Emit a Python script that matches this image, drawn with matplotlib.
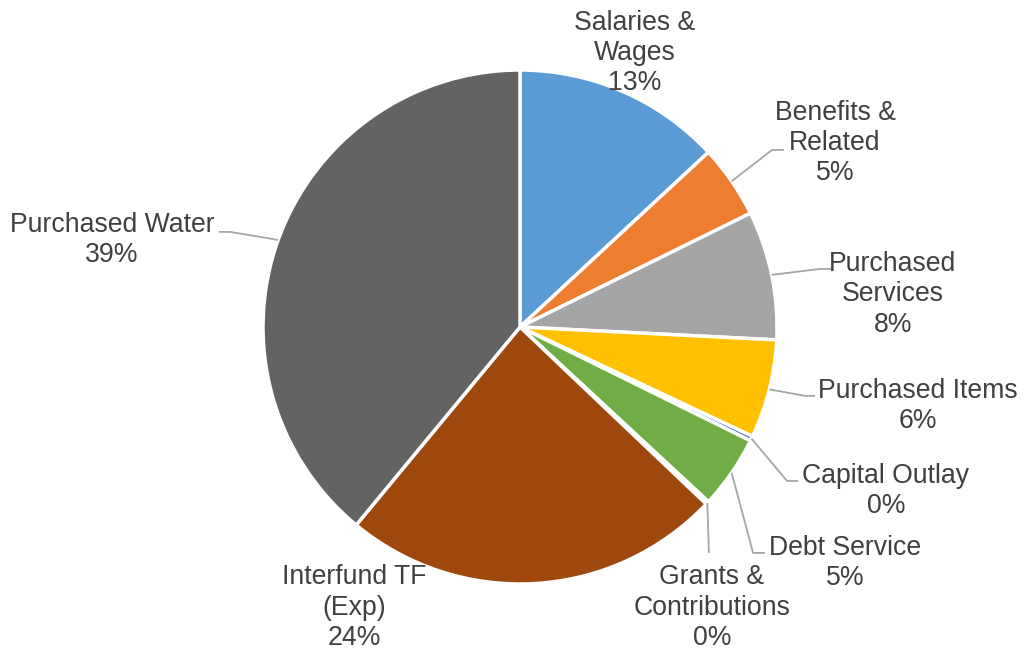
import numpy as np
import matplotlib.pyplot as plt

plt.rcParams['font.family'] = ['Liberation Sans', 'DejaVu Sans']

# expense categories, clockwise from 12 o'clock
categories = ['Salaries &\nWages', 'Benefits &\nRelated', 'Purchased\nServices',
              'Purchased Items', 'Capital Outlay', 'Debt Service',
              'Grants &\nContributions', 'Interfund TF\n(Exp)', 'Purchased Water']
shares = [13.1, 4.6, 8.1, 6.2, 0.3, 4.6, 0.2, 23.9, 39.0]
colors = ['#5B9BD5', '#ED7D31', '#A5A5A5', '#FFC000', '#4472C4',
          '#70AD47', '#255E91', '#9E480E', '#636363']

# label placement in units of pie radius: text centre, elbow of leader, end of leader
label_pos = [(0.447, 1.066), (1.226, 0.716), (1.451, 0.128), (1.549, -0.308),
             (1.424, -0.638), (1.265, -0.919), (0.747, -1.092), (-0.646, -1.092),
             (-1.588, 0.338)]
leaders = [None,
           ((0.981, 0.689), (1.027, 0.689)),
           ((1.167, 0.226), (1.214, 0.226)),
           ((1.109, -0.268), (1.148, -0.268)),
           ((1.039, -0.599), (1.082, -0.599)),
           ((0.907, -0.879), (0.953, -0.879)),
           ((0.735, -0.879), None),
           None,
           ((-1.128, 0.370), (-1.171, 0.370))]

fig = plt.figure(figsize=(10.23, 6.51), dpi=100)
ax = fig.add_axes([0, 0, 1, 1])
R = 257.0

wedges, _ = ax.pie(shares, colors=colors, startangle=90, counterclock=False,
                   radius=1.0, wedgeprops=dict(edgecolor='white', linewidth=2.5))

# pie() resets the limits, so set them afterwards
ax.set_xlim(-520 / R, (1023 - 520) / R)
ax.set_ylim(-(651 - 327) / R, 327 / R)
ax.set_aspect('equal')
ax.axis('off')

total = sum(shares)
cum = np.cumsum([0] + shares[:-1])
for i, (name, val) in enumerate(zip(categories, shares)):
    pct = round(val / total * 100)
    tx, ty = label_pos[i]
    ax.text(tx, ty, f'{name}\n{pct}%', ha='center', va='center', fontsize=19.2,
            color='#404040', linespacing=1.22)
    if leaders[i] is None:
        continue
    mid = np.deg2rad(90 - (cum[i] + val / 2) / total * 360)
    px, py = np.cos(mid), np.sin(mid)
    elbow, end = leaders[i]
    xs = [px, elbow[0]]
    ys = [py, elbow[1]]
    if end is not None:
        xs.append(end[0])
        ys.append(end[1])
    ax.plot(xs, ys, color='#A6A6A6', linewidth=1.3, solid_capstyle='butt')

fig.savefig('out.png', dpi=100, facecolor='white')
